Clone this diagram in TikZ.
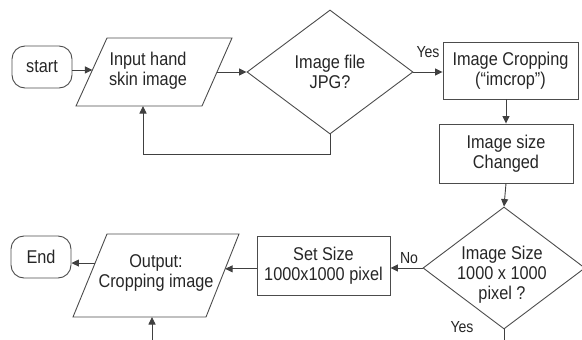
\documentclass[tikz,border=0pt]{standalone}
\usepackage{fontspec}
\setmainfont{Liberation Sans}[FakeStretch=0.88]
\usetikzlibrary{shapes.geometric,arrows.meta,calc}
\begin{document}
\begin{tikzpicture}[x=1pt,y=-1pt,
  every node/.style={font=\fontsize{18.5}{20}\selectfont, text=black!85, align=center},
  flow/.style={draw=black!70, line width=0.9pt},
  terminal/.style={flow, rectangle, rounded corners=13pt, minimum width=60pt, minimum height=42pt, inner sep=0pt},
  procbox/.style={flow, rectangle, inner sep=0pt},
  decision/.style={flow, diamond, inner sep=0pt},
  arr/.style={draw=black!75, line width=0.9pt, -{Triangle[length=7.5pt,width=7pt]}},
  link/.style={draw=black!75, line width=0.9pt},
  lbl/.style={font=\fontsize{16}{18}\selectfont}
]
\useasboundingbox (0,0) rectangle (582,340);

% corners of the two input/output parallelograms
\coordinate (inpTL) at (107,38);  \coordinate (inpTR) at (232,38);
\coordinate (inpBR) at (202,106); \coordinate (inpBL) at (76,106);
\coordinate (outTL) at (107,234); \coordinate (outTR) at (239,234);
\coordinate (outBR) at (206,317); \coordinate (outBL) at (73,317);
\draw[flow] (inpBL) -- (inpBR) -- (inpTR) -- (inpTL) -- cycle;
\draw[flow] (outBL) -- (outBR) -- (outTR) -- (outTL) -- cycle;

% upper row
\node[terminal] (start) at (42,67) {start};
\node (inp) at (148,71) {Input hand\\skin image};
\node[decision, minimum width=166pt, minimum height=124pt] (d1) at (330,72) {Image file\\JPG?};
\node[procbox, minimum width=135pt, minimum height=57pt] (crop) at (510.5,70.5) {Image Cropping\\(“imcrop”)};
\node[procbox, minimum width=134pt, minimum height=59pt] (chg) at (506,153.5) {Image size\\Changed};

% lower row
\node[decision, minimum width=162pt, minimum height=122pt] (d2) at (504,268) {};
\node (d2text) at (502,275) {Image Size\\1000 x 1000\\pixel ?};
\node[procbox, minimum width=133pt, minimum height=59pt] (set) at (323.5,265.5) {Set Size\\1000x1000 pixel};
\node (out) at (156,273) {Output:\\Cropping image};
\node[terminal] (end) at (41,257) {End};

% points where connectors meet the parallelograms
\coordinate (inpL) at ($(inpTL)!0.47!(inpBL)$);
\coordinate (inpR) at ($(inpTR)!0.5!(inpBR)$);
\coordinate (inpB) at (143,106);
\coordinate (outR) at ($(outTR)!0.42!(outBR)$);
\coordinate (outL) at ($(outTL)!0.35!(outBL)$);
\coordinate (outB) at (152,317);
% free ends leaving the lower edge
\coordinate (yesend) at (504,340);
\coordinate (loopin) at (152,340);

% connectors
\draw[arr] (start.east |- inpL) -- (inpL);
\draw[arr] (inpR) -- (d1.west);
\draw[arr] (d1.east) -- (d1.east -| crop.west);
\draw[arr] (d1.south) -- ++(0,20) -| (inpB);
\draw[arr] (crop.south -| chg.north) -- (chg.north);
\draw[arr] (chg.south) -- (d2.north);
\draw[arr] (d2.west) -- (d2.west -| set.east);
\draw[arr] (outR -| set.west) -- (outR);
\draw[arr] (outL) -- (outL -| end.east);
\draw[link] (d2.south) -- (yesend);
\draw[arr] (loopin) -- (outB);

% branch labels
\node[lbl] (yes1) at (428,52) {Yes};
\node[lbl] (no2) at (409,258) {No};
\node[lbl] (yes2) at (462,327) {Yes};
\end{tikzpicture}
\end{document}
